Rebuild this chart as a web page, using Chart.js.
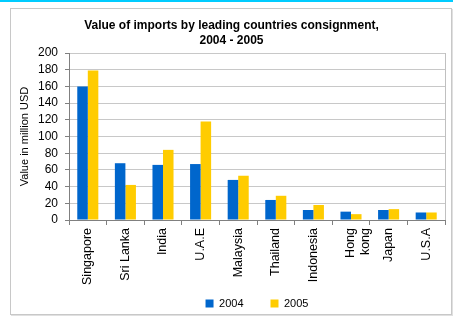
<!DOCTYPE html>
<html>
<head>
<meta charset="utf-8">
<script src="https://cdn.jsdelivr.net/npm/chart.js@4"></script>
<style>
  body { margin: 0; background: #fff; }
  #topline { position: absolute; left: 0; top: 0; width: 453px; height: 2px; background: #00ccff; }
  #frame { position: absolute; left: 10px; top: 8px; width: 440px; height: 305px; border: 1px solid #c8c8c8; box-shadow: 1px 1px 0 #e0e0e0; }
  #wrap { position: absolute; left: 0; top: 0; width: 455px; height: 316px; }
</style>
</head>
<body>
<div id="topline"></div>
<div id="frame"></div>
<div id="wrap"><canvas id="chart"></canvas></div>
<script>
const countries = ['Singapore', 'Sri Lanka', 'India', 'U.A.E', 'Malaysia', 'Thailand', 'Indonesia', ['Hong', 'kong'], 'Japan', 'U.S.A'];
const imports2004 = [160, 68, 66, 67, 48, 24, 12, 10, 12, 9];
const imports2005 = [179, 42, 84, 118, 53, 29, 18, 7, 13, 9];
const yTicks = [0, 20, 40, 60, 80, 100, 120, 140, 160, 180, 200];

const fontFamily = 'Arial, "Liberation Sans", sans-serif';

// right-hand border of the plot area
const plotBorder = {
  id: 'plotBorder',
  afterDraw(chart) {
    const a = chart.chartArea;
    const c = chart.ctx;
    c.save();
    c.strokeStyle = '#c0c0c0';
    c.lineWidth = 1;
    c.beginPath();
    c.moveTo(a.right + 0.5, a.top);
    c.lineTo(a.right + 0.5, a.bottom);
    c.stroke();
    c.restore();
  }
};

const ctx = document.getElementById('chart');

new Chart(ctx, {
  type: 'bar',
  data: {
    labels: countries,
    datasets: [{
      label: '2004',
      data: imports2004,
      backgroundColor: '#0066cc'
    }, {
      label: '2005',
      data: imports2005,
      backgroundColor: '#ffcc00'
    }]
  },
  options: {
    responsive: true,
    maintainAspectRatio: false,
    animation: false,
    categoryPercentage: 0.56,
    barPercentage: 1,
    layout: {
      padding: { left: 18, right: 10, top: 6, bottom: 0 }
    },
    plugins: {
      title: {
        display: true,
        text: ['Value of imports by leading countries consignment,', '2004 - 2005'],
        color: '#000',
        font: { family: fontFamily, size: 12, weight: 'bold', lineHeight: 1.25 },
        padding: { top: 12, bottom: 5 }
      },
      legend: {
        position: 'bottom',
        fullSize: false,
        maxHeight: 45,
        labels: {
          color: '#000',
          boxWidth: 8,
          boxHeight: 8,
          padding: 27,
          font: { family: fontFamily, size: 11 }
        }
      },
      tooltip: { enabled: false }
    },
    scales: {
      x: {
        afterFit(scale) {
          scale.height = 51;
          // let the long rotated labels run past the axis box
          scale._computeLabelArea = () => undefined;
        },
        grid: {
          drawOnChartArea: false,
          tickLength: 5,
          color: '#808080'
        },
        border: { color: '#808080' },
        ticks: {
          color: '#000',
          minRotation: 90,
          maxRotation: 90,
          autoSkip: false,
          font: { family: fontFamily, size: 12.5 }
        }
      },
      y: {
        min: 0,
        max: 200,
        afterBuildTicks(scale) {
          scale.ticks = yTicks.map(v => ({ value: v }));
        },
        afterFit(scale) {
          scale.width = 51;
        },
        grid: {
          color: '#c8c8c8',
          tickColor: '#808080',
          tickLength: 4
        },
        border: { color: '#808080' },
        ticks: {
          color: '#000',
          padding: 7,
          autoSkip: false,
          font: { family: fontFamily, size: 12 }
        },
        title: {
          display: true,
          text: 'Value in million USD',
          color: '#000',
          padding: 0,
          font: { family: fontFamily, size: 11 }
        }
      }
    }
  },
  plugins: [plotBorder]
});
</script>
</body>
</html>
